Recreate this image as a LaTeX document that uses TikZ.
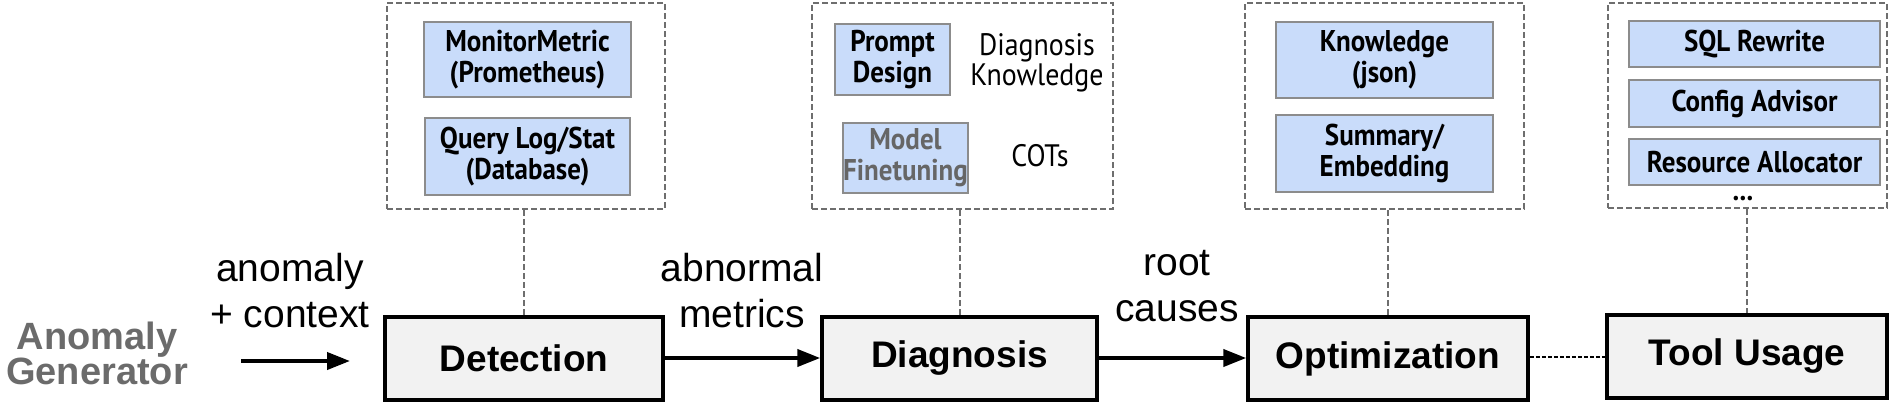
\documentclass[tikz,border=0pt]{standalone}
\usepackage{fontspec}
\setmainfont{Liberation Sans}
\newfontfamily\innerfont[FakeStretch=0.9]{PT Sans}
\usetikzlibrary{arrows.meta}
\definecolor{boxfill}{HTML}{F2F2F2}
\definecolor{bluefill}{HTML}{C9DCFA}
\definecolor{inneredge}{HTML}{8C8C8C}
\definecolor{dashgray}{HTML}{6E6E6E}
\definecolor{aggray}{HTML}{6B6B6B}
\definecolor{mfgray}{HTML}{666666}
\begin{document}
\begin{tikzpicture}[x=1pt,y=-1pt,
  mainbox/.style={draw=black, line width=3.5pt, fill=boxfill, minimum height=83pt, inner sep=0pt,
    font=\fontsize{37}{44}\selectfont\bfseries},
  container/.style={draw=dashgray, line width=2pt, dash pattern=on 6pt off 3pt, minimum height=206pt, inner sep=0pt},
  innerbox/.style={draw=inneredge, line width=1.5pt, fill=bluefill, inner sep=0pt, align=center,
    font=\innerfont\fontsize{30}{31}\selectfont\bfseries},
  plaintext/.style={inner sep=0pt, align=center, font=\innerfont\fontsize{31}{30}\selectfont},
  edgelabel/.style={inner sep=0pt, align=center, anchor=south, font=\fontsize{39}{46}\selectfont},
  flow/.style={line width=4pt, -{Triangle[length=23pt,width=17pt]}},
  vlink/.style={draw=dashgray, line width=2pt, dash pattern=on 6pt off 3pt},
  hlink/.style={line width=2pt, dash pattern=on 4pt off 2pt}
]
\useasboundingbox (0,0) rectangle (1890,407);

% main boxes
\node[mainbox, minimum width=278pt] (det) at (524,358.5) {Detection};
\node[mainbox, minimum width=275pt] (dia) at (959.5,358.5) {Diagnosis};
\node[mainbox, minimum width=280pt] (opt) at (1388,358.5) {Optimization};
\node[mainbox, minimum width=280pt] (tool) at (1747,356.5) {Tool Usage};

% anomaly generator
\node[inner sep=0pt, align=center, anchor=south, text=aggray,
  font=\fontsize{38}{35}\selectfont\bfseries] (ag) at (97,385) {Anomaly\\Generator};

\coordinate (a1s) at (241,361);
\coordinate (a1e) at (350,361);
\draw[flow] (a1s) -- (a1e);
\draw[flow] (det.east |- 0,358) -- (dia.west |- 0,358);
\draw[flow] (dia.east |- 0,358) -- (opt.west |- 0,358);
\draw[hlink] (opt.east |- 0,356.5) -- (tool.west);

\node[edgelabel] (l1) at (290,328) {anomaly\\+ context};
\node[edgelabel] (l2) at (742,328) {abnormal\\metrics};
\node[edgelabel] (l3) at (1177,322) {root\\causes};

% containers
\node[container, minimum width=278pt] (c1) at (526,106) {};
\node[container, minimum width=301pt] (c2) at (962.5,106) {};
\node[container, minimum width=279pt] (c3) at (1384.5,106) {};
\node[container, minimum width=279pt, minimum height=205pt] (c4) at (1747.5,105.5) {};

\draw[vlink] (det.north |- c1.south) -- (det.north);
\draw[vlink] (dia.north |- c2.south) -- (dia.north);
\draw[vlink] (opt.north |- c3.south) -- (opt.north);
\draw[vlink] (tool.north |- c4.south) -- (tool.north);

% detection inner
\node[innerbox, minimum width=207pt, minimum height=75pt] (mm) at (527.5,59.5) {MonitorMetric\\(Prometheus)};
\node[innerbox, minimum width=205pt, minimum height=77pt] (ql) at (527.5,156.5) {Query Log/Stat\\(Database)};

% diagnosis inner
\node[innerbox, minimum width=115pt, minimum height=71pt] (pd) at (892.5,59.5) {Prompt\\Design};
\node[innerbox, minimum width=125pt, minimum height=70pt, text=mfgray] (mf) at (905.5,158) {Model\\Finetuning};
\node[plaintext] (dk) at (1037,63) {Diagnosis\\Knowledge};
\node[plaintext] (cots) at (1040,156) {COTs};

% optimization inner
\node[innerbox, minimum width=217pt, minimum height=76pt] (kj) at (1384.5,60) {Knowledge\\(json)};
\node[innerbox, minimum width=217pt, minimum height=77pt] (se) at (1384.5,153.5) {Summary/\\Embedding};

% tool inner
\node[innerbox, minimum width=251pt, minimum height=46pt] (sql) at (1754.5,44) {SQL Rewrite};
\node[innerbox, minimum width=251pt, minimum height=47pt] (cfg) at (1754.5,103.5) {Config Advisor};
\node[innerbox, minimum width=251pt, minimum height=46pt] (res) at (1754.5,162) {Resource Allocator};
\node[inner sep=0pt, anchor=base, font=\innerfont\fontsize{30}{31}\selectfont\bfseries] (dots) at (1743,200) {...};
\end{tikzpicture}
\end{document}
